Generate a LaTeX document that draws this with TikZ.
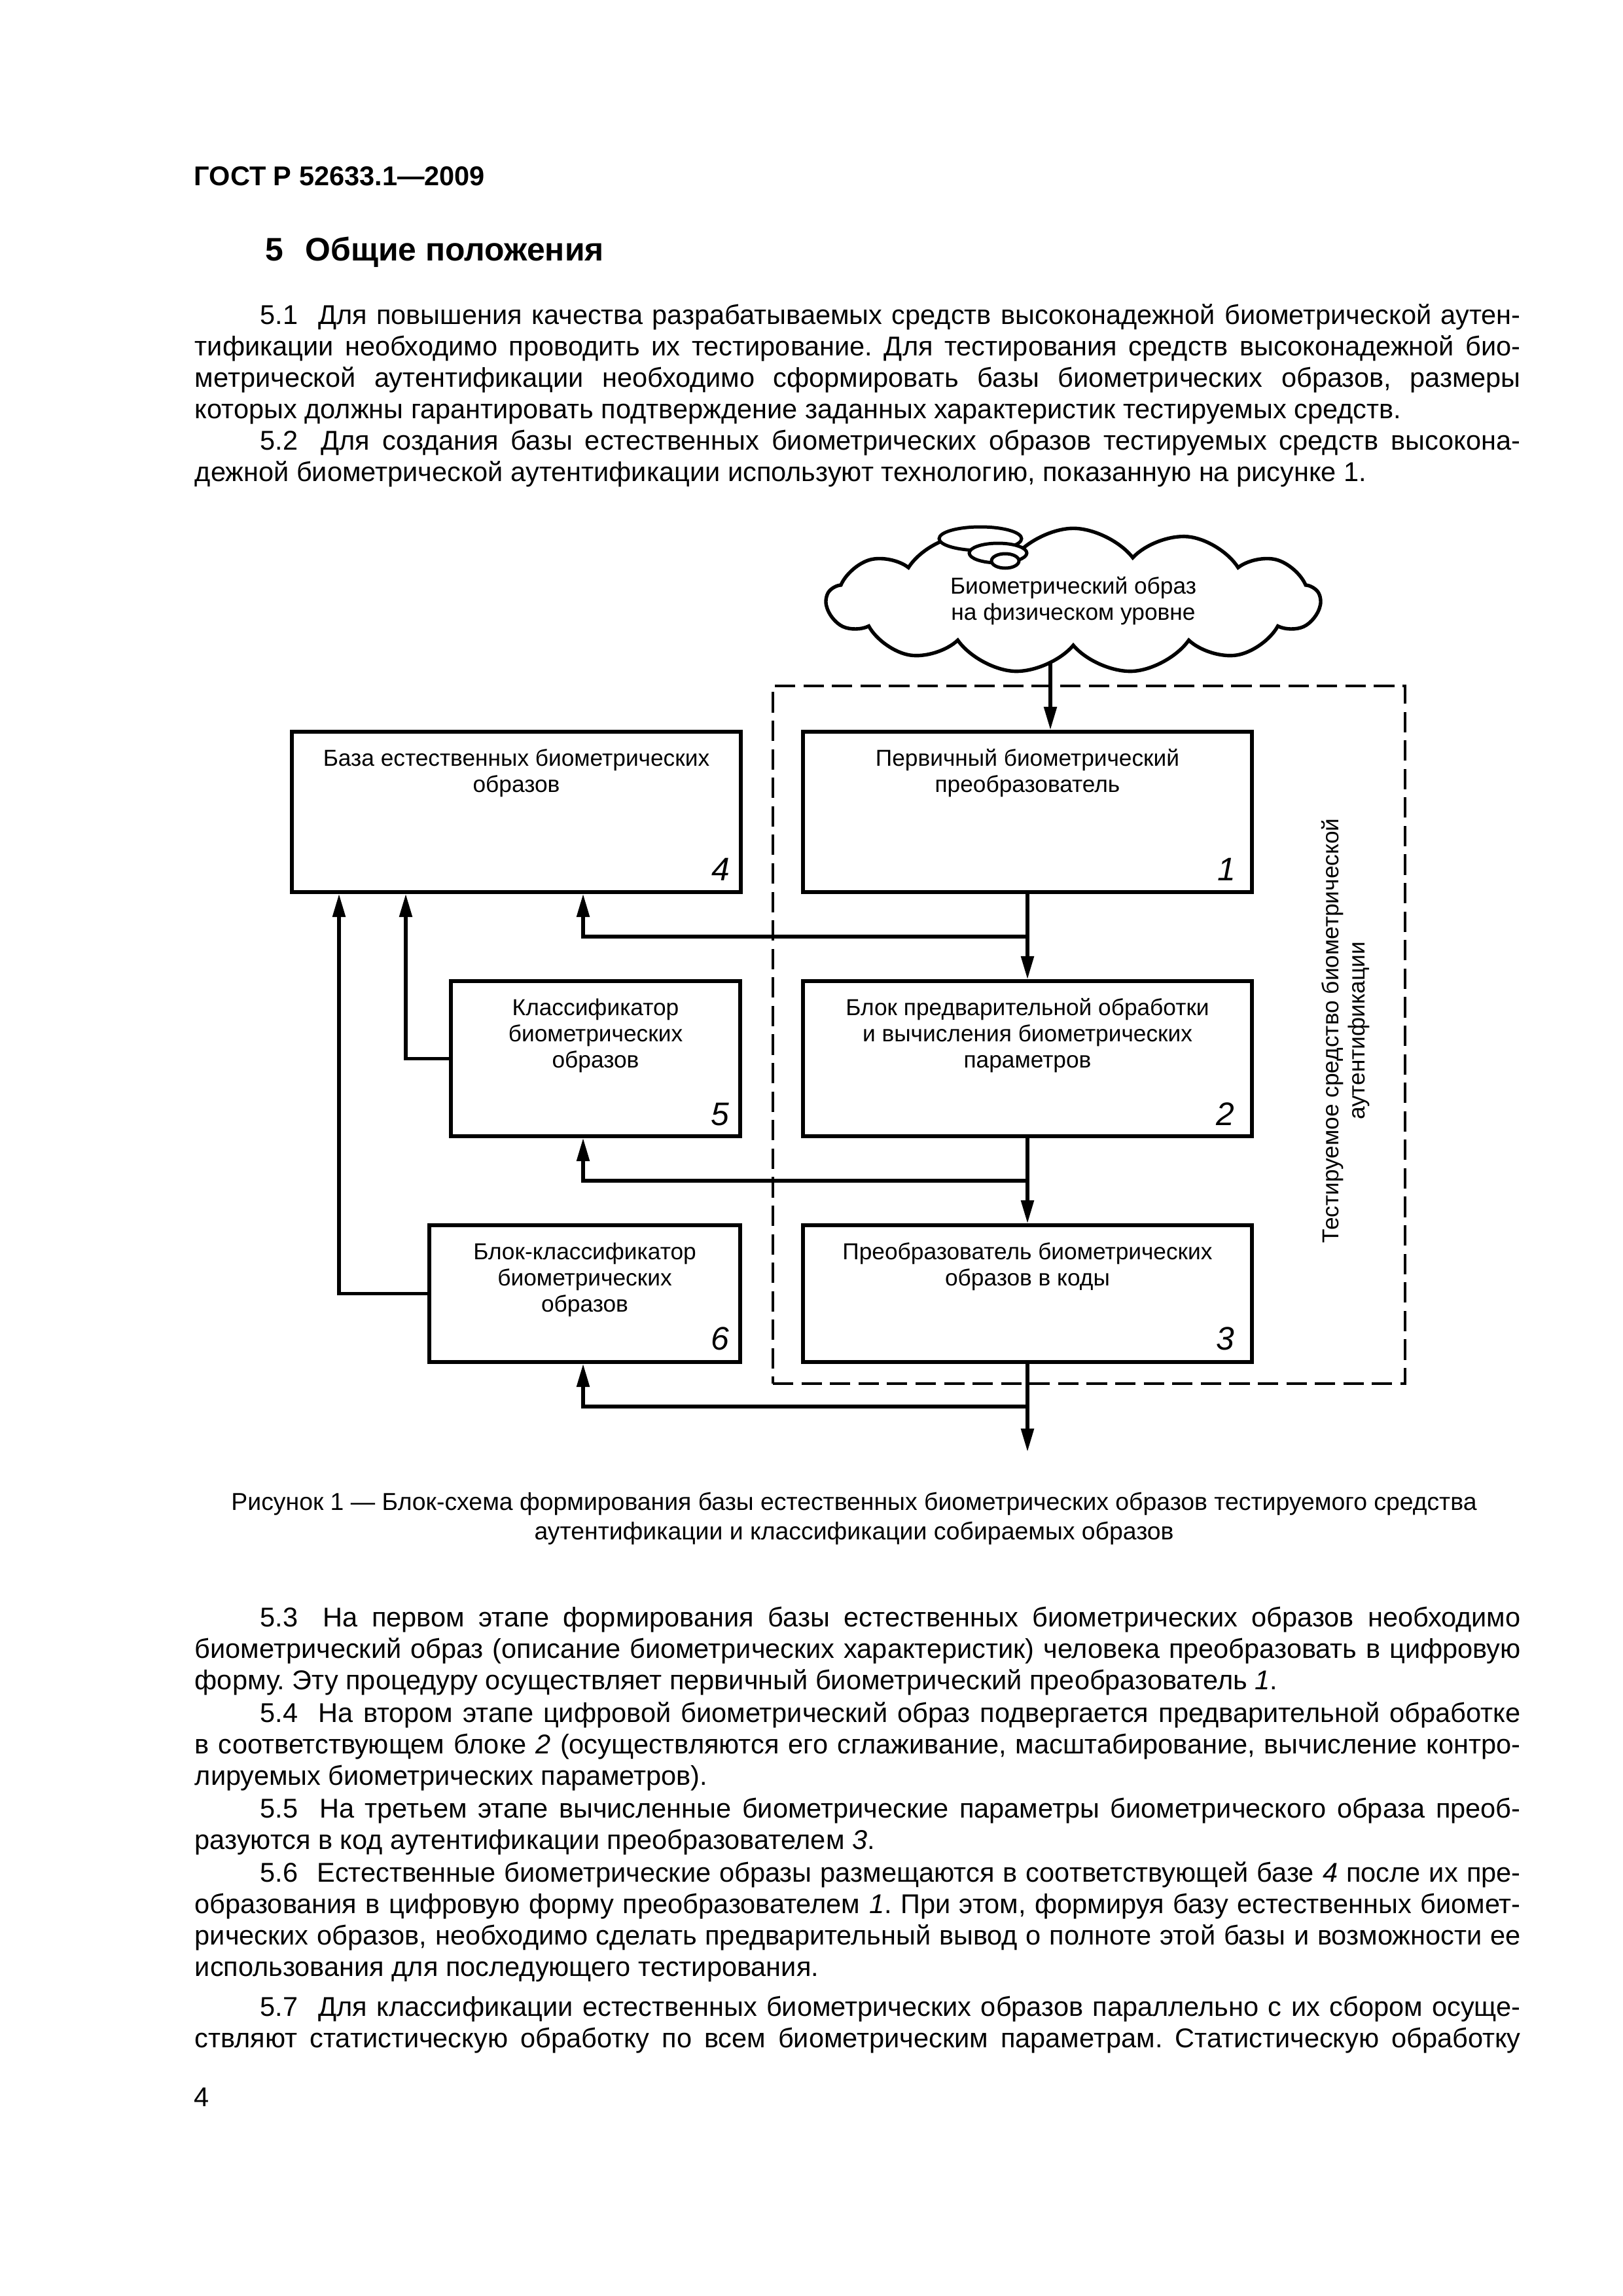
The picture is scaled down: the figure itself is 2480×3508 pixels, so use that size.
\documentclass[tikz,border=0pt]{standalone}
\usepackage{fontspec}
\setmainfont{Liberation Sans}
\usetikzlibrary{arrows.meta,shapes.symbols,calc,fit}

\newcommand\px{0.084667mm}
\newlength\textw \setlength\textw{488pt}
\newcommand\abzac[1]{\vtop{\hsize=\textw \parindent=0pt #1}}
\newcommand\jline[1]{\hbox to\hsize{#1}}
\newcommand\lline[1]{\hbox{#1}}
\newcommand\ind{\hspace*{24pt}}

\tikzset{
	blok/.style = {draw, line width=1.35pt, inner sep=0pt},
	btxt/.style = {align=center, inner sep=0pt, font=\fontsize{8.5pt}{9.6pt}\selectfont},
	num/.style = {anchor=base east, inner sep=0pt, font=\fontsize{12pt}{14pt}\selectfont\itshape},
	strel/.style = {line width=1.25pt, -{Triangle[length=8.5pt,width=4.6pt]}},
	para/.style = {anchor=base west, inner sep=0pt, font=\fontsize{10pt}{11.6pt}\selectfont},
}

\begin{document}
\frenchspacing
\begin{tikzpicture}[x=0.084667mm, y=-0.084667mm]
	\path[fill=white] (0,0) rectangle (2480,3508);
	\useasboundingbox (0,0) rectangle (2480,3508);
	
	% page head
	\node[anchor=base west, inner sep=0pt, font=\fontsize{10pt}{12pt}\selectfont\bfseries] (gost) at (296,283) {ГОСТ Р 52633.1—2009};
	\node[anchor=base west, inner sep=0pt, font=\fontsize{12pt}{14pt}\selectfont\bfseries] (razdel) at (405,398) {5\hspace{8pt}Общие положения};
	
	\node[para] (p51) at (297,495) {\abzac{%
		\jline{\ind 5.1\hspace{4pt} Для повышения качества разрабатываемых средств высоконадежной биометрической аутен-}
		\jline{тификации необходимо проводить их тестирование. Для тестирования средств высоконадежной био-}
		\jline{метрической аутентификации необходимо сформировать базы биометрических образов, размеры}
		\lline{которых должны гарантировать подтверждение заданных характеристик тестируемых средств.}}};
	\node[para] (p52) at (297,687) {\abzac{%
		\jline{\ind 5.2\hspace{4pt} Для создания базы естественных биометрических образов тестируемых средств высокона-}
		\lline{дежной биометрической аутентификации используют технологию, показанную на рисунке 1.}}};
	
	% source
	\node[cloud, draw, line width=1.3pt, cloud puffs=13, cloud puff arc=105, aspect=3.25,
		minimum width=63.8mm, btxt] (obraz) at (1640,918) {Биометрический образ\\на физическом уровне};
	\draw[line width=1.2pt, fill=white] (1498,823) ellipse [x radius=63, y radius=18];
	\draw[line width=1.2pt, fill=white] (1525,845) ellipse [x radius=44, y radius=15];
	\draw[line width=1.2pt, fill=white] (1536,857) ellipse [x radius=21, y radius=11];
	\coordinate (vhod) at (1605,1014);
	
	% tested device
	\node[draw, line width=1pt, dash pattern=on 7.5pt off 3pt, inner sep=0pt,
		fit={(1181,1048) (2147,2114)}] (sredstvo) {};
	\node[btxt, rotate=90] (sredtxt) at (2056,1575) {Тестируемое средство биометрической\\аутентификации};
	
	% blocks
	\node[blok, fit={(446,1118) (1132,1363)}] (baza) {};
	\node[blok, fit={(1227,1118) (1913,1363)}] (perv) {};
	\node[blok, fit={(689,1499) (1131,1736)}] (klass) {};
	\node[blok, fit={(1227,1499) (1913,1736)}] (obrab) {};
	\node[blok, fit={(656,1872) (1131,2081)}] (bkl) {};
	\node[blok, fit={(1227,1872) (1913,2081)}] (kody) {};
	
	\node[btxt, anchor=base] at ([yshift=-95*\px]baza.north) {База естественных биометрических\\образов};
	\node[btxt, anchor=base] at ([yshift=-95*\px]perv.north) {Первичный биометрический\\преобразователь};
	\node[btxt, anchor=base] at ([yshift=-135*\px]klass.north) {Классификатор\\биометрических\\образов};
	\node[btxt, anchor=base] at ([yshift=-135*\px]obrab.north) {Блок предварительной обработки\\и вычисления биометрических\\параметров};
	\node[btxt, anchor=base] at ([yshift=-135*\px]bkl.north) {Блок-классификатор\\биометрических\\образов};
	\node[btxt, anchor=base] at ([yshift=-95*\px]kody.north) {Преобразователь биометрических\\образов в коды};
	
	\node[num] at ([xshift=-19*\px, yshift=20*\px]baza.south east) {4};
	\node[num] at ([xshift=-27*\px, yshift=20*\px]perv.south east) {1};
	\node[num] at ([xshift=-19*\px, yshift=19*\px]klass.south east) {5};
	\node[num] at ([xshift=-29*\px, yshift=19*\px]obrab.south east) {2};
	\node[num] at ([xshift=-19*\px, yshift=21*\px]bkl.south east) {6};
	\node[num] at ([xshift=-29*\px, yshift=21*\px]kody.south east) {3};
	
	% connections
	\coordinate (xa) at (891,0);
	\coordinate (xb) at (620,0);
	\coordinate (xc) at (518,0);
	\coordinate (vyhod) at (kody.south |- 0,2218);
	\draw[strel] (vhod) -- (perv.north -| vhod);
	\draw[strel] (perv.south) -- (obrab.north);
	\draw[strel] (obrab.south) -- (kody.north);
	\draw[strel] (kody.south) -- (vyhod);
	\draw[strel] ($(perv.south)!.5!(obrab.north)$) -| (baza.south -| xa);
	\draw[strel] ($(obrab.south)!.5!(kody.north)$) -| (klass.south -| xa);
	\draw[strel] (kody.south |- 0,2149) -| (bkl.south -| xa);
	\draw[strel] (klass.west) -| (baza.south -| xb);
	\draw[strel] (bkl.west) -| (baza.south -| xc);
	
	% caption
	\node[anchor=base, align=center, inner sep=0pt, font=\fontsize{9pt}{10.8pt}\selectfont] (podpis) at (1305,2352)
		{Рисунок 1 — Блок-схема формирования базы естественных биометрических образов тестируемого средства\\аутентификации и классификации собираемых образов};
	
	\node[para] (p53) at (297,2485) {\abzac{%
		\jline{\ind 5.3\hspace{4pt} На первом этапе формирования базы естественных биометрических образов необходимо}
		\jline{биометрический образ (описание биометрических характеристик) человека преобразовать в цифровую}
		\lline{форму. Эту процедуру осуществляет первичный биометрический преобразователь \textit{1}.}}};
	\node[para] (p54) at (297,2631) {\abzac{%
		\jline{\ind 5.4\hspace{4pt} На втором этапе цифровой биометрический образ подвергается предварительной обработке}
		\jline{в соответствующем блоке \textit{2} (осуществляются его сглаживание, масштабирование, вычисление контро-}
		\lline{лируемых биометрических параметров).}}};
	\node[para] (p55) at (297,2777) {\abzac{%
		\jline{\ind 5.5\hspace{4pt} На третьем этапе вычисленные биометрические параметры биометрического образа преоб-}
		\lline{разуются в код аутентификации преобразователем \textit{3}.}}};
	\node[para] (p56) at (297,2875) {\abzac{%
		\jline{\ind 5.6\hspace{4pt} Естественные биометрические образы размещаются в соответствующей базе \textit{4} после их пре-}
		\jline{образования в цифровую форму преобразователем \textit{1}. При этом, формируя базу естественных биомет-}
		\jline{рических образов, необходимо сделать предварительный вывод о полноте этой базы и возможности ее}
		\lline{использования для последующего тестирования.}}};
	\node[para] (p57) at (297,3080) {\abzac{%
		\jline{\ind 5.7\hspace{4pt} Для классификации естественных биометрических образов параллельно с их сбором осуще-}
		\jline{ствляют статистическую обработку по всем биометрическим параметрам. Статистическую обработку}}};
	
	\node[anchor=base west, inner sep=0pt, font=\fontsize{10pt}{12pt}\selectfont] (stranica) at (296,3218) {4};
\end{tikzpicture}
\end{document}
